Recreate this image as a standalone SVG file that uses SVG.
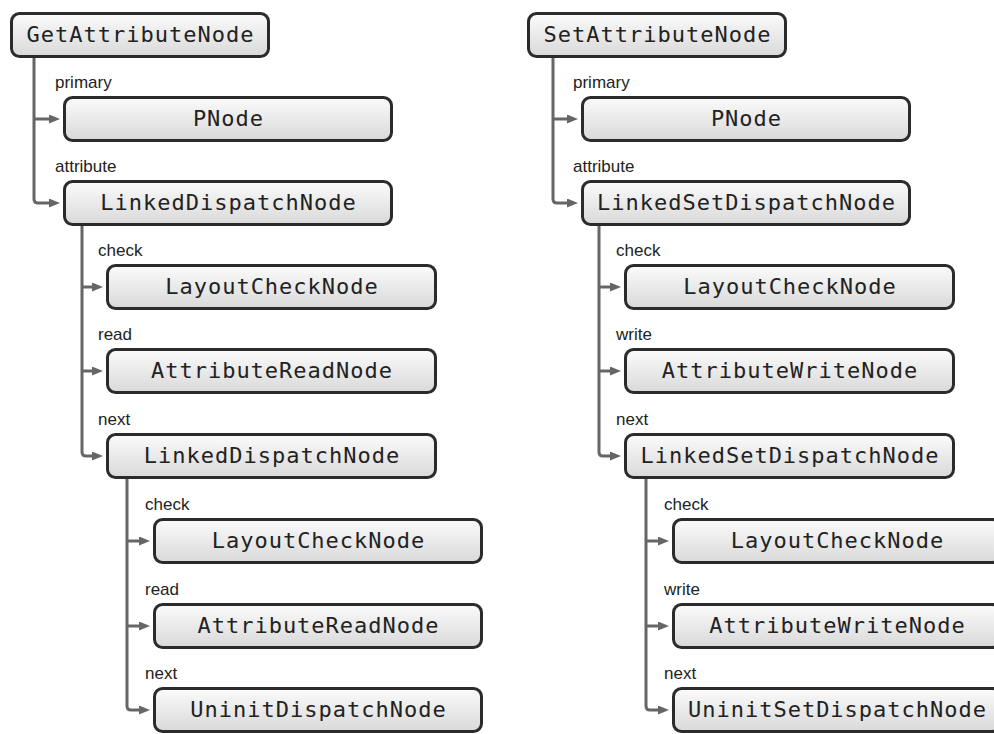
<svg xmlns="http://www.w3.org/2000/svg" width="994" height="734" viewBox="0 0 994 734">
  <defs>
    <linearGradient id="boxfill" x1="0" y1="0" x2="0" y2="1">
      <stop offset="0" stop-color="#fbfbfb"/>
      <stop offset="1" stop-color="#d9d9d9"/>
    </linearGradient>
    <marker id="arrow" markerUnits="userSpaceOnUse" markerWidth="12" markerHeight="10" refX="1" refY="4.5" orient="auto">
      <path d="M0,0 L11,4.5 L0,9 z" fill="#666666"/>
    </marker>
  </defs>
  <style>
    .box { fill: url(#boxfill); stroke: #2b2b2b; stroke-width: 3; }
    .name { font-family: "DejaVu Sans Mono", "Liberation Mono", monospace; font-size: 22px; letter-spacing: 1px; fill: #222222; text-anchor: middle; }
    .lbl { font-family: "Liberation Sans", Arial, sans-serif; font-size: 17px; fill: #222222; }
    .edge { fill: none; stroke: #666666; stroke-width: 3; }
    .arr { marker-end: url(#arrow); }
  </style>
  <rect width="994" height="734" fill="#ffffff"/>

  <g id="connectors">
    <!-- left tree -->
    <path class="edge arr" d="M34,119 H50"/>
    <path class="edge arr" d="M34,57 V199 Q34,203 38,203 H50"/>
    <path class="edge arr" d="M82,287 H93"/>
    <path class="edge arr" d="M82,371 H93"/>
    <path class="edge arr" d="M82,225 V452 Q82,456 86,456 H93"/>
    <path class="edge arr" d="M127,541 H140"/>
    <path class="edge arr" d="M127,626 H140"/>
    <path class="edge arr" d="M127,478 V706 Q127,710 131,710 H140"/>
    <!-- right tree -->
    <path class="edge arr" d="M553,119 H568"/>
    <path class="edge arr" d="M553,57 V199 Q553,203 557,203 H568"/>
    <path class="edge arr" d="M599,287 H611"/>
    <path class="edge arr" d="M599,371 H611"/>
    <path class="edge arr" d="M599,225 V452 Q599,456 603,456 H611"/>
    <path class="edge arr" d="M646,541 H659"/>
    <path class="edge arr" d="M646,626 H659"/>
    <path class="edge arr" d="M646,478 V706 Q646,710 650,710 H659"/>
  </g>

  <g id="labels">
    <text class="lbl" x="55" y="88">primary</text>
    <text class="lbl" x="55" y="172">attribute</text>
    <text class="lbl" x="98" y="256">check</text>
    <text class="lbl" x="98" y="340">read</text>
    <text class="lbl" x="98" y="425">next</text>
    <text class="lbl" x="145" y="510">check</text>
    <text class="lbl" x="145" y="595">read</text>
    <text class="lbl" x="145" y="679">next</text>
    <text class="lbl" x="573" y="88">primary</text>
    <text class="lbl" x="573" y="172">attribute</text>
    <text class="lbl" x="616" y="256">check</text>
    <text class="lbl" x="616" y="340">write</text>
    <text class="lbl" x="616" y="425">next</text>
    <text class="lbl" x="664" y="510">check</text>
    <text class="lbl" x="664" y="595">write</text>
    <text class="lbl" x="664" y="679">next</text>
  </g>

  <!-- left tree nodes -->
  <g id="get_root"><rect class="box" x="11.5" y="13.5" width="257" height="43" rx="8"/><text class="name" x="140.5" y="42">GetAttributeNode</text></g>
  <g id="get_pnode"><rect class="box" x="64.5" y="97.5" width="327" height="43" rx="8"/><text class="name" x="228.5" y="126">PNode</text></g>
  <g id="get_ldn1"><rect class="box" x="64.5" y="181.5" width="327" height="43" rx="8"/><text class="name" x="228.5" y="210">LinkedDispatchNode</text></g>
  <g id="get_lcn1"><rect class="box" x="107.5" y="265.5" width="328" height="43" rx="8"/><text class="name" x="272" y="294">LayoutCheckNode</text></g>
  <g id="get_arn1"><rect class="box" x="107.5" y="349.5" width="328" height="43" rx="8"/><text class="name" x="272" y="378">AttributeReadNode</text></g>
  <g id="get_ldn2"><rect class="box" x="107.5" y="434.5" width="328" height="43" rx="8"/><text class="name" x="272" y="463">LinkedDispatchNode</text></g>
  <g id="get_lcn2"><rect class="box" x="154.5" y="519.5" width="327" height="43" rx="8"/><text class="name" x="318.5" y="548">LayoutCheckNode</text></g>
  <g id="get_arn2"><rect class="box" x="154.5" y="604.5" width="327" height="43" rx="8"/><text class="name" x="318.5" y="633">AttributeReadNode</text></g>
  <g id="get_udn"><rect class="box" x="154.5" y="688.5" width="327" height="43" rx="8"/><text class="name" x="318.5" y="717">UninitDispatchNode</text></g>

  <!-- right tree nodes -->
  <g id="set_root"><rect class="box" x="528.5" y="13.5" width="257" height="43" rx="8"/><text class="name" x="657.5" y="42">SetAttributeNode</text></g>
  <g id="set_pnode"><rect class="box" x="582.5" y="97.5" width="327" height="43" rx="8"/><text class="name" x="746.5" y="126">PNode</text></g>
  <g id="set_lsdn1"><rect class="box" x="582.5" y="181.5" width="327" height="43" rx="8"/><text class="name" x="746.5" y="210">LinkedSetDispatchNode</text></g>
  <g id="set_lcn1"><rect class="box" x="625.5" y="265.5" width="328" height="43" rx="8"/><text class="name" x="790" y="294">LayoutCheckNode</text></g>
  <g id="set_awn1"><rect class="box" x="625.5" y="349.5" width="328" height="43" rx="8"/><text class="name" x="790" y="378">AttributeWriteNode</text></g>
  <g id="set_lsdn2"><rect class="box" x="625.5" y="434.5" width="328" height="43" rx="8"/><text class="name" x="790" y="463">LinkedSetDispatchNode</text></g>
  <g id="set_lcn2"><rect class="box" x="673.5" y="519.5" width="327" height="43" rx="8"/><text class="name" x="837.5" y="548">LayoutCheckNode</text></g>
  <g id="set_awn2"><rect class="box" x="673.5" y="604.5" width="327" height="43" rx="8"/><text class="name" x="837.5" y="633">AttributeWriteNode</text></g>
  <g id="set_usdn"><rect class="box" x="673.5" y="688.5" width="327" height="43" rx="8"/><text class="name" x="837.5" y="717">UninitSetDispatchNode</text></g>
</svg>
